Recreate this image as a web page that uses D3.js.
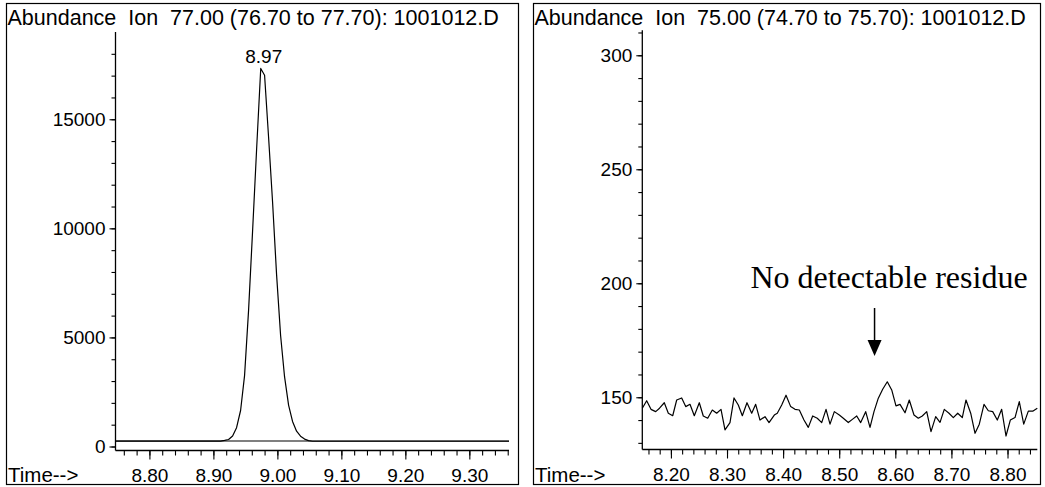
<!DOCTYPE html>
<html>
<head>
<meta charset="utf-8">
<script src="https://cdn.jsdelivr.net/npm/d3@7"></script>
<style>
  html, body { margin: 0; padding: 0; background: #fff; }
  svg { display: block; }
  text { font-family: "Liberation Sans", Arial, Helvetica, sans-serif; fill: #000; }
  .serif { font-family: "Liberation Serif", "Times New Roman", serif; }
</style>
</head>
<body>
<svg id="chart" width="1045" height="487"></svg>
<script>
// ---- Ion 77 trace (left) ----
const leftTitle = "Abundance  Ion  77.00 (76.70 to 77.70): 1001012.D";
const leftTimes = [8.747, 8.800, 8.850, 8.900, 8.9112, 8.9175, 8.9237, 8.9300, 8.9362, 8.9425,
  8.9487, 8.9550, 8.9612, 8.9675, 8.9740, 8.9800, 8.9862, 8.9925, 8.9987, 9.0050,
  9.0112, 9.0175, 9.0237, 9.0300, 9.0362, 9.0425, 9.0487, 9.0550, 9.0700, 9.1500,
  9.2500, 9.3620];
const leftAbundance = [250, 250, 250, 250, 250, 280, 320, 480, 860, 1650,
  3250, 6250, 9850, 13600, 17330, 17020, 14200, 11200, 7900, 5100,
  3200, 1900, 1150, 700, 470, 340, 270, 240, 240, 240,
  240, 240];
const leftBaselineLevel = 250;
const leftYMajor = [0, 5000, 10000, 15000];
const leftYMinor = [0, 1000, 2000, 3000, 4000, 5000, 6000, 7000, 8000, 9000, 10000,
  11000, 12000, 13000, 14000, 15000, 16000, 17000, 18000];
const leftXMajor = [8.80, 8.90, 9.00, 9.10, 9.20, 9.30];
const leftXMinor = [8.76, 8.78, 8.80, 8.82, 8.84, 8.86, 8.88, 8.90, 8.92, 8.94, 8.96, 8.98,
  9.00, 9.02, 9.04, 9.06, 9.08, 9.10, 9.12, 9.14, 9.16, 9.18, 9.20, 9.22, 9.24, 9.26,
  9.28, 9.30, 9.32, 9.34, 9.36];

// ---- Ion 75 trace (right) ----
const rightTitle = "Abundance  Ion  75.00 (74.70 to 75.70): 1001012.D";
const rightTimes = [8.1490, 8.1568, 8.1645, 8.1729, 8.1797, 8.1882, 8.1954, 8.2032, 8.2103, 8.2192,
  8.2264, 8.2340, 8.2417, 8.2506, 8.2577, 8.2656, 8.2738, 8.2816, 8.2893, 8.2964,
  8.3053, 8.3125, 8.3201, 8.3273, 8.3356, 8.3440, 8.3511, 8.3588, 8.3677, 8.3749,
  8.3843, 8.3896, 8.3975, 8.4052, 8.4135, 8.4212, 8.4289, 8.4372, 8.4449, 8.4527,
  8.4609, 8.4688, 8.4765, 8.4836, 8.4913, 8.5002, 8.5073, 8.5162, 8.5240, 8.5312,
  8.5383, 8.5472, 8.5549, 8.5620, 8.5697, 8.5775, 8.5857, 8.5936, 8.6012, 8.6084,
  8.6173, 8.6249, 8.6333, 8.6410, 8.6481, 8.6560, 8.6636, 8.6720, 8.6797, 8.6873,
  8.6957, 8.7034, 8.7112, 8.7194, 8.7260, 8.7344, 8.7421, 8.7497, 8.7581, 8.7658,
  8.7736, 8.7818, 8.7896, 8.7973, 8.8050, 8.8134, 8.8210, 8.8289, 8.8371, 8.8449,
  8.8531];
const rightAbundance = [145.2, 148.5, 144.7, 143.7, 145.2, 147.6, 143.0, 141.9, 148.8, 149.7,
  145.9, 146.9, 141.9, 147.6, 141.8, 140.8, 144.4, 143.0, 144.7, 135.7,
  138.9, 149.7, 146.6, 141.9, 147.6, 143.0, 146.9, 140.0, 141.5, 138.9,
  142.2, 143.0, 146.6, 150.9, 145.9, 144.7, 144.4, 140.0, 136.8, 141.8,
  140.8, 138.9, 144.7, 138.2, 143.7, 142.2, 140.8, 138.9, 140.4, 141.8,
  138.9, 143.7, 136.8, 143.7, 149.6, 153.5, 156.8, 153.2, 146.2, 146.9,
  143.2, 148.8, 142.2, 140.8, 141.8, 143.7, 134.9, 141.5, 139.0, 144.7,
  143.0, 141.1, 143.0, 141.1, 148.8, 143.0, 134.2, 138.2, 146.9, 144.1,
  143.7, 140.0, 144.7, 133.0, 140.0, 141.1, 148.1, 138.2, 143.9, 143.9,
  145.2];
const rightYMajor = [150, 200, 250, 300];
const rightYMinor = [130, 140, 150, 160, 170, 180, 190, 200, 210, 220, 230, 240, 250,
  260, 270, 280, 290, 300, 310];
const rightXMajor = [8.20, 8.30, 8.40, 8.50, 8.60, 8.70, 8.80];
const rightXMinor = [8.16, 8.18, 8.20, 8.22, 8.24, 8.26, 8.28, 8.30, 8.32, 8.34, 8.36, 8.38,
  8.40, 8.42, 8.44, 8.46, 8.48, 8.50, 8.52, 8.54, 8.56, 8.58, 8.60, 8.62, 8.64, 8.66,
  8.68, 8.70, 8.72, 8.74, 8.76, 8.78, 8.80, 8.82, 8.84];
const annotationText = "No detectable residue";
const annotationTime = 8.563;

const svg = d3.select("#chart");
const FS = 19;        // tick and peak labels
const TITLE_FS = 21.5; // panel headers
const TIME_FS = 20.5;  // "Time-->" captions

function panel(cfg) {
  const g = svg.append("g");
  // frame
  g.append("rect")
    .attr("x", cfg.frame[0] + 0.5).attr("y", cfg.frame[1] + 0.5)
    .attr("width", cfg.frame[2]).attr("height", cfg.frame[3])
    .attr("fill", "none").attr("stroke", "#000").attr("stroke-width", 1.2);

  g.append("text")
    .attr("x", cfg.frame[0] + 1.5).attr("y", 24.5)
    .style("font-size", TITLE_FS + "px").style("white-space", "pre")
    .text(cfg.title);

  g.append("text")
    .attr("x", cfg.frame[0] + 2).attr("y", 481.5)
    .style("font-size", TIME_FS + "px")
    .text("Time-->");

  const x = d3.scaleLinear().domain(cfg.xDomain).range(cfg.xRange);
  const y = d3.scaleLinear().domain(cfg.yDomain).range(cfg.yRange);

  // y axis: minor then labelled major ticks
  const yAxisMinor = d3.axisLeft(y).tickValues(cfg.yMinor).tickSize(4).tickSizeOuter(0).tickFormat("");
  const yAxisMajor = d3.axisLeft(y).tickValues(cfg.yMajor).tickSize(6).tickSizeOuter(0).tickPadding(4)
    .tickFormat(d3.format("d"));
  [yAxisMinor, yAxisMajor].forEach(ax => {
    const a = g.append("g").attr("transform", `translate(${cfg.xRange[0]},0)`).call(ax);
    a.select(".domain").remove();
    a.selectAll("line").attr("stroke", "#000").attr("stroke-width", 1.1);
    a.selectAll("text").style("font-size", FS + "px").attr("font-family", null);
  });
  g.append("line")
    .attr("x1", cfg.xRange[0]).attr("x2", cfg.xRange[0])
    .attr("y1", cfg.yRange[1]).attr("y2", cfg.axisY)
    .attr("stroke", "#000").attr("stroke-width", 1.3);

  // x axis
  const xAxisMinor = d3.axisBottom(x).tickValues(cfg.xMinor).tickSize(5).tickSizeOuter(0).tickFormat("");
  const xAxisMajor = d3.axisBottom(x).tickValues(cfg.xMajor).tickSize(9).tickSizeOuter(0).tickPadding(9)
    .tickFormat(d3.format(".2f"));
  [xAxisMinor, xAxisMajor].forEach(ax => {
    const a = g.append("g").attr("transform", `translate(0,${cfg.axisY})`).call(ax);
    a.select(".domain").remove();
    a.selectAll("line").attr("stroke", "#000").attr("stroke-width", 1.1);
    a.selectAll("text").style("font-size", FS + "px").attr("font-family", null);
  });
  g.append("line")
    .attr("x1", cfg.xRange[0]).attr("x2", cfg.xRange[1])
    .attr("y1", cfg.axisY).attr("y2", cfg.axisY)
    .attr("stroke", "#000").attr("stroke-width", 1.3);

  // trace
  const pts = cfg.times.map((t, i) => [t, cfg.values[i]]);
  const line = d3.line().x(d => x(d[0])).y(d => y(d[1]));
  g.append("path").datum(pts)
    .attr("d", line)
    .attr("fill", "none").attr("stroke", "#000").attr("stroke-width", 1.2)
    .attr("stroke-linejoin", "round");

  return { g, x, y, pts };
}

// left panel: Ion 77
const L = panel({
  frame: [6, 3, 512, 481],
  title: leftTitle,
  xDomain: [8.747, 9.362], xRange: [115.5, 509],
  yDomain: [0, 19000], yRange: [446.5, 32],
  axisY: 450.5,
  yMajor: leftYMajor, yMinor: leftYMinor,
  xMajor: leftXMajor, xMinor: leftXMinor,
  times: leftTimes, values: leftAbundance
});

// integration baseline under the peak
L.g.append("line")
  .attr("x1", L.x(leftTimes[0])).attr("x2", L.x(leftTimes[leftTimes.length - 1]))
  .attr("y1", L.y(leftBaselineLevel)).attr("y2", L.y(leftBaselineLevel))
  .attr("stroke", "#000").attr("stroke-width", 1.1);

// retention-time label on the apex
const apex = L.pts.reduce((a, b) => (b[1] > a[1] ? b : a));
L.g.append("text")
  .attr("x", L.x(apex[0]) + 3).attr("y", L.y(apex[1]) - 5)
  .attr("text-anchor", "middle")
  .style("font-size", FS + "px")
  .text(d3.format(".2f")(apex[0]));

// right panel: Ion 75
const R = panel({
  frame: [533, 3, 507, 481],
  title: rightTitle,
  xDomain: [8.149, 8.8531], xRange: [642.3, 1037.3],
  yDomain: [127, 311], yRange: [449.7, 30.2],
  axisY: 449.5,
  yMajor: rightYMajor, yMinor: rightYMinor,
  xMajor: rightXMajor, xMinor: rightXMinor,
  times: rightTimes, values: rightAbundance
});

// annotation with a downward arrow
R.g.append("text")
  .attr("class", "serif")
  .attr("x", 889).attr("y", 288)
  .attr("text-anchor", "middle")
  .style("font-size", "32px")
  .text(annotationText);
const ax = R.x(annotationTime);
R.g.append("line")
  .attr("x1", ax).attr("x2", ax).attr("y1", 308).attr("y2", 342)
  .attr("stroke", "#000").attr("stroke-width", 1.5);
R.g.append("path")
  .attr("d", `M${ax - 7},340 L${ax + 7},340 L${ax},356 Z`)
  .attr("fill", "#000");
</script>
</body>
</html>
